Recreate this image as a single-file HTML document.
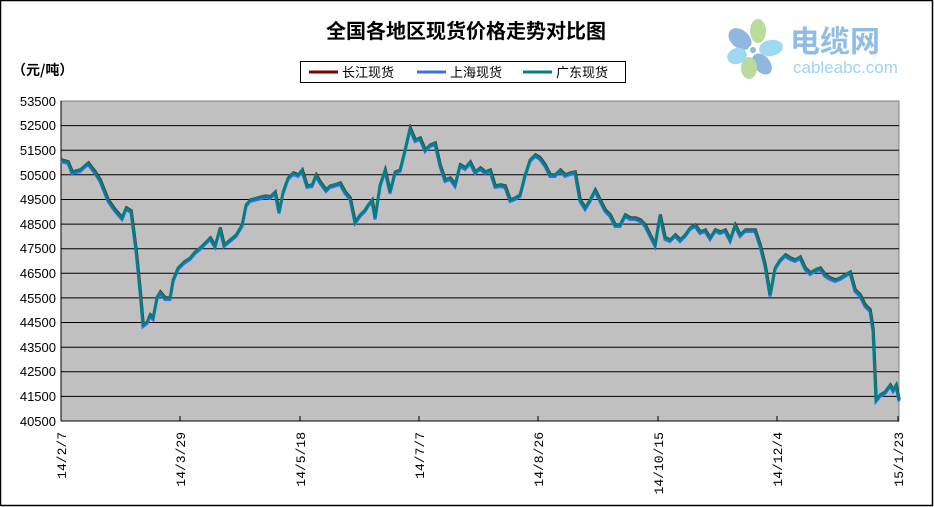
<!DOCTYPE html>
<html><head><meta charset="utf-8"><style>
body{margin:0;background:#fff}
svg{display:block}
text{font-family:"Liberation Sans","Noto Sans CJK SC",sans-serif}
.m text{font-family:"Liberation Mono",monospace}
</style></head><body>
<svg width="934" height="507" viewBox="0 0 934 507" xmlns="http://www.w3.org/2000/svg">
<rect x="0.5" y="0.5" width="932" height="505" fill="#fff" stroke="#000" stroke-width="1.5"/>
<text x="466" y="38" font-size="20" text-anchor="middle" font-weight="bold" style="font-family:'Noto Sans CJK SC',sans-serif">全国各地区现货价格走势对比图</text>
<text x="12" y="75" font-size="14" font-weight="bold" style="font-family:'Noto Sans CJK SC',sans-serif">（元/吨）</text>
<g transform="translate(753,50)">
<ellipse cx="-13" cy="-11" rx="9" ry="13" fill="#8fb7df" transform="rotate(-50 -13 -11)"/>
<ellipse cx="5" cy="-19" rx="8" ry="12" fill="#b8dc9c"/>
<ellipse cx="18" cy="-2" rx="8" ry="12" fill="#9fd8f3" transform="rotate(80 18 -2)"/>
<ellipse cx="9" cy="14" rx="8" ry="12" fill="#8fb7df" transform="rotate(-40 9 14)"/>
<ellipse cx="-4" cy="18" rx="8" ry="11" fill="#b8dc9c"/>
<ellipse cx="-16" cy="6" rx="8" ry="10" fill="#9fd8f3" transform="rotate(70 -16 6)"/>
<circle cx="0" cy="0" r="5" fill="#fff"/><circle cx="0" cy="0" r="3" fill="#8fb7df"/>
</g>
<text x="790" y="52" font-size="30" font-weight="bold" fill="#8fbde6" style="font-family:'Noto Sans CJK SC',sans-serif">电缆网</text>
<text x="793" y="73" font-size="17" fill="#9fd3f0">cableabc.com</text>
<rect x="300.5" y="61.5" width="325" height="21" fill="#fff" stroke="#000"/>
<line x1="309" y1="72" x2="338" y2="72" stroke="#800000" stroke-width="3"/>
<text x="342" y="77" font-size="13" style="font-family:'Noto Sans CJK SC',sans-serif">长江现货</text>
<line x1="417" y1="72" x2="446" y2="72" stroke="#3d6ef0" stroke-width="3"/>
<text x="450" y="77" font-size="13" style="font-family:'Noto Sans CJK SC',sans-serif">上海现货</text>
<line x1="523" y1="72" x2="552" y2="72" stroke="#008080" stroke-width="3"/>
<text x="556" y="77" font-size="13" style="font-family:'Noto Sans CJK SC',sans-serif">广东现货</text>
<rect x="61" y="101" width="838" height="320" fill="#c0c0c0" stroke="#808080"/>
<g stroke="#000" stroke-width="1">
<line x1="61" y1="125.6" x2="899" y2="125.6"/><line x1="61" y1="150.2" x2="899" y2="150.2"/>
<line x1="61" y1="174.8" x2="899" y2="174.8"/><line x1="61" y1="199.5" x2="899" y2="199.5"/>
<line x1="61" y1="224.1" x2="899" y2="224.1"/><line x1="61" y1="248.7" x2="899" y2="248.7"/>
<line x1="61" y1="273.3" x2="899" y2="273.3"/><line x1="61" y1="297.9" x2="899" y2="297.9"/>
<line x1="61" y1="322.5" x2="899" y2="322.5"/><line x1="61" y1="347.2" x2="899" y2="347.2"/>
<line x1="61" y1="371.8" x2="899" y2="371.8"/><line x1="61" y1="396.4" x2="899" y2="396.4"/>
<line x1="61" y1="421" x2="899" y2="421"/><line x1="61" y1="101" x2="61" y2="421"/>
<line x1="180" y1="416" x2="180" y2="421"/><line x1="300" y1="416" x2="300" y2="421"/>
<line x1="419" y1="416" x2="419" y2="421"/><line x1="538" y1="416" x2="538" y2="421"/>
<line x1="658" y1="416" x2="658" y2="421"/><line x1="777" y1="416" x2="777" y2="421"/>
<line x1="898" y1="416" x2="898" y2="421"/>
</g>
<g font-size="13" text-anchor="end">
<text x="56" y="106">53500</text><text x="56" y="130">52500</text><text x="56" y="155">51500</text>
<text x="56" y="180">50500</text><text x="56" y="204">49500</text><text x="56" y="229">48500</text>
<text x="56" y="253">47500</text><text x="56" y="278">46500</text><text x="56" y="303">45500</text>
<text x="56" y="327">44500</text><text x="56" y="352">43500</text><text x="56" y="376">42500</text>
<text x="56" y="401">41500</text><text x="56" y="426">40500</text>
</g>
<g class="m" font-size="13" text-anchor="end">
<text transform="translate(66,432) rotate(-90)">14/2/7</text>
<text transform="translate(185,432) rotate(-90)">14/3/29</text>
<text transform="translate(305,432) rotate(-90)">14/5/18</text>
<text transform="translate(424,432) rotate(-90)">14/7/7</text>
<text transform="translate(543,432) rotate(-90)">14/8/26</text>
<text transform="translate(663,432) rotate(-90)">14/10/15</text>
<text transform="translate(782,432) rotate(-90)">14/12/4</text>
<text transform="translate(903,432) rotate(-90)">15/1/23</text>
</g>
<defs>
<polyline id="s" fill="none" points="61,160 68,162 72,172 80,170 88,163 95,172 100,180 108,200 115,210 122,218 126,208 131,211 136,250 140,290 143,325 147,322 150,315 153,318 157,297 160,292 165,298 170,298 173,280 178,268 184,262 190,258 195,252 200,248 205,243 210,238 215,246 220,228 224,245 230,240 236,235 242,225 246,205 250,200 258,198 265,196 270,197 275,192 279,212 283,192 288,178 293,173 298,175 302,170 307,186 312,185 316,175 320,182 326,190 330,186 334,185 340,183 345,192 350,198 355,222 360,215 365,210 368,205 372,200 375,218 380,185 385,170 390,192 395,172 400,170 405,150 410,128 415,140 420,138 425,150 430,145 435,143 440,165 445,180 450,178 455,185 460,165 465,168 470,162 475,172 480,168 485,172 490,170 495,186 500,185 505,186 510,200 515,198 520,195 525,175 530,160 535,155 540,158 545,165 550,175 555,175 560,170 565,175 570,173 575,172 580,200 585,208 590,200 595,190 600,200 605,210 610,215 615,225 620,225 625,215 630,218 635,218 640,220 645,225 650,235 655,245 660,215 665,238 670,240 675,235 680,240 685,235 690,228 695,225 700,232 705,230 710,238 715,230 720,232 725,230 730,240 735,225 740,235 745,230 750,230 755,230 760,245 765,265 770,295 775,268 780,260 785,255 790,258 795,260 800,257 805,268 810,273 815,270 820,268 825,275 830,278 835,280 840,278 845,275 850,272 855,290 860,295 865,305 870,310 873,330 876,400 880,395 885,392 890,385 893,390 896,385 899,400"/>
</defs>
<use href="#s" stroke="#800000" stroke-width="2.5" transform="translate(0.5,-0.5)"/>
<use href="#s" stroke="#3d6ef0" stroke-width="3" transform="translate(0,1.5)"/>
<use href="#s" stroke="#008080" stroke-width="2.8"/>
</svg>
</body></html>
